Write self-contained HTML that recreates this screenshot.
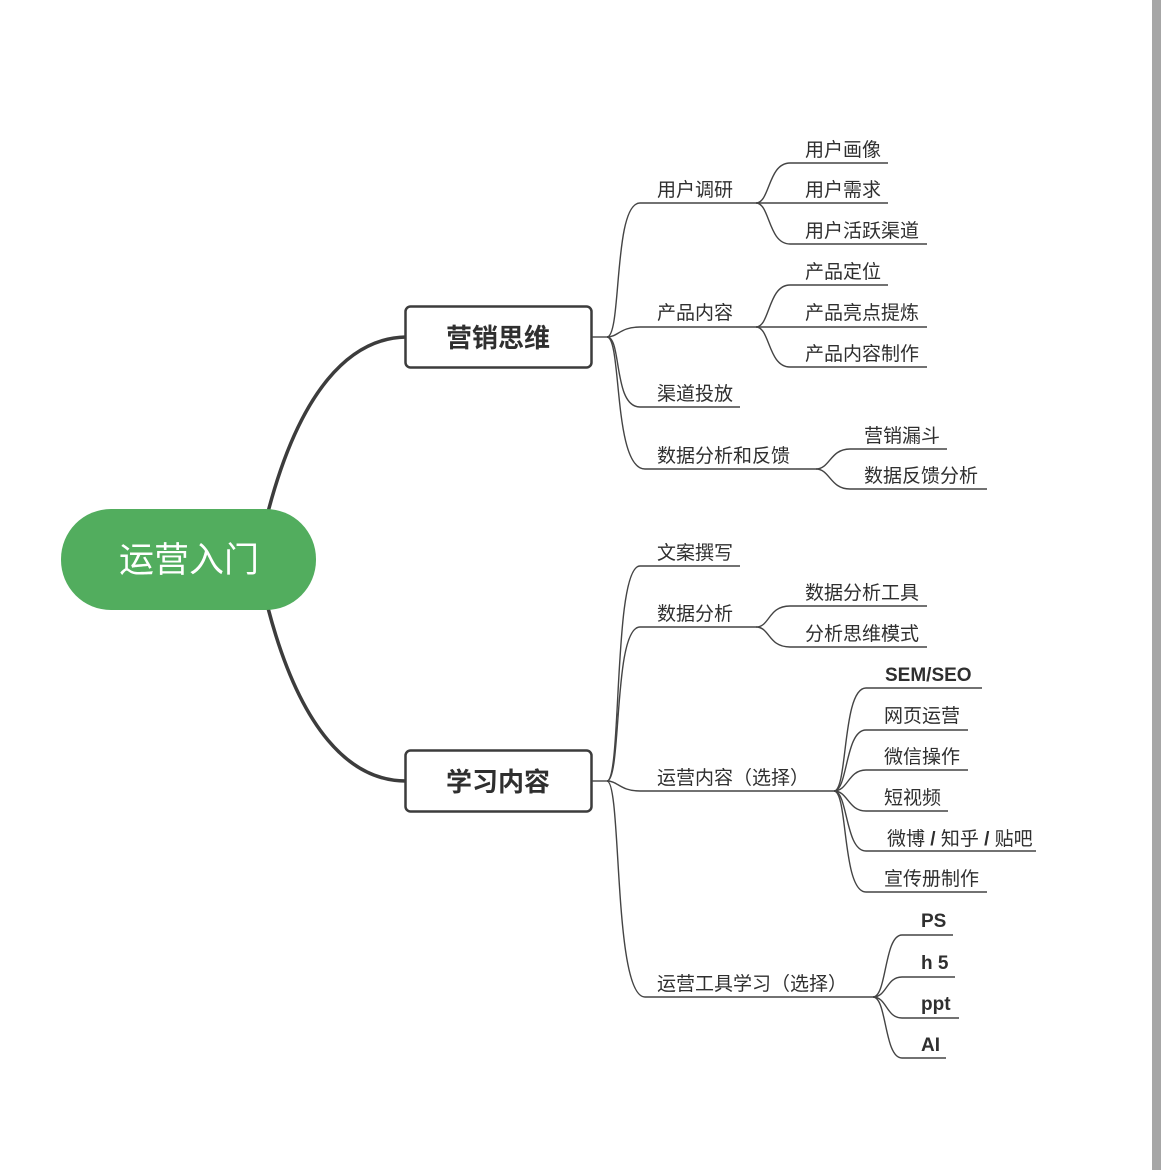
<!DOCTYPE html>
<html><head><meta charset="utf-8"><style>
html,body{margin:0;padding:0;background:#fff;}
svg{display:block;}
text{font-family:"Liberation Sans","Noto Sans CJK SC",sans-serif;fill:#2f2f2f;}
</style></head><body>
<svg width="1170" height="1170" viewBox="0 0 1170 1170" xmlns="http://www.w3.org/2000/svg">
<rect x="1152" y="0" width="9" height="1170" fill="#a6a6a6"/>
<path d="M268,512 C300,390 350,338 406,337" fill="none" stroke="#3c3c3c" stroke-width="3.5"/>
<path d="M268,608 C300,730 350,781 406,781" fill="none" stroke="#3c3c3c" stroke-width="3.5"/>
<rect x="61" y="509" width="255" height="101" rx="50" fill="#52ad5e"/>
<text x="189" y="572" font-size="35" text-anchor="middle" style="fill:#fff">运营入门</text>
<rect x="405.5" y="306.5" width="186" height="61" rx="5" fill="#fff" stroke="#3c3c3c" stroke-width="2.5"/>
<text x="498" y="347" font-size="26" font-weight="bold" text-anchor="middle">营销思维</text>
<rect x="405.5" y="750.5" width="186" height="61" rx="5" fill="#fff" stroke="#3c3c3c" stroke-width="2.5"/>
<text x="498" y="791" font-size="26" font-weight="bold" text-anchor="middle">学习内容</text>
<g fill="none" stroke="#444" stroke-width="1.4">
<path d="M592,337 L607,337"/>
<path d="M607,337 C622,337 613,203 640,203 L756,203"/>
<path d="M607,337 C618,337 620,327 640,327 L756,327"/>
<path d="M607,337 C622,337 613,407 640,407 L740,407"/>
<path d="M607,337 C622,337 613,469 645,469 L816,469"/>
<path d="M756,203 C770,203 768,163 790,163 L888,163"/>
<path d="M756,203 L888,203"/>
<path d="M756,203 C770,203 768,244 790,244 L927,244"/>
<path d="M756,327 C770,327 768,285 790,285 L888,285"/>
<path d="M756,327 L927,327"/>
<path d="M756,327 C770,327 768,367 790,367 L927,367"/>
<path d="M816,469 C830,469 830,449 850,449 L947,449"/>
<path d="M816,469 C830,469 830,489 850,489 L987,489"/>
<path d="M592,781 L607,781"/>
<path d="M607,781 C622,781 613,566 640,566 L740,566"/>
<path d="M607,781 C622,781 613,627 640,627 L756,627"/>
<path d="M607,781 C618,781 620,791 640,791 L834,791"/>
<path d="M607,781 C622,781 613,997 645,997 L873,997"/>
<path d="M756,627 C770,627 768,606 790,606 L927,606"/>
<path d="M756,627 C770,627 768,647 790,647 L927,647"/>
<path d="M834,791 C848,791 842,688 866,688 L982,688"/>
<path d="M834,791 C848,791 845,730 866,730 L968,730"/>
<path d="M834,791 C848,791 848,770 866,770 L968,770"/>
<path d="M834,791 C848,791 848,811 866,811 L948,811"/>
<path d="M834,791 C848,791 845,851 866,851 L1036,851"/>
<path d="M834,791 C848,791 842,892 866,892 L987,892"/>
<path d="M873,997 C887,997 884,935 902,935 L953,935"/>
<path d="M873,997 C887,997 886,977 902,977 L955,977"/>
<path d="M873,997 C887,997 886,1018 902,1018 L959,1018"/>
<path d="M873,997 C887,997 884,1058 902,1058 L946,1058"/>
</g>
<g font-size="19">
<text x="657" y="196">用户调研</text>
<text x="657" y="319">产品内容</text>
<text x="657" y="400">渠道投放</text>
<text x="657" y="462">数据分析和反馈</text>
<text x="805" y="156">用户画像</text>
<text x="805" y="196">用户需求</text>
<text x="805" y="237">用户活跃渠道</text>
<text x="805" y="278">产品定位</text>
<text x="805" y="319">产品亮点提炼</text>
<text x="805" y="360">产品内容制作</text>
<text x="864" y="442">营销漏斗</text>
<text x="864" y="482">数据反馈分析</text>
<text x="657" y="559">文案撰写</text>
<text x="657" y="620">数据分析</text>
<text x="805" y="599">数据分析工具</text>
<text x="805" y="640">分析思维模式</text>
<text x="657" y="784">运营内容（选择）</text>
<text x="657" y="990">运营工具学习（选择）</text>
<text x="885" y="681" font-weight="bold">SEM/SEO</text>
<text x="884" y="722">网页运营</text>
<text x="884" y="763">微信操作</text>
<text x="884" y="804">短视频</text>
<text x="887" y="845">微博 <tspan font-weight="bold">/</tspan> 知乎 <tspan font-weight="bold">/</tspan> 贴吧</text>
<text x="884" y="885">宣传册制作</text>
<text x="921" y="927" font-weight="bold">PS</text>
<text x="921" y="969" font-weight="bold">h 5</text>
<text x="921" y="1010" font-weight="bold">ppt</text>
<text x="921" y="1051" font-weight="bold">AI</text>
</g>
</svg>
</body></html>
